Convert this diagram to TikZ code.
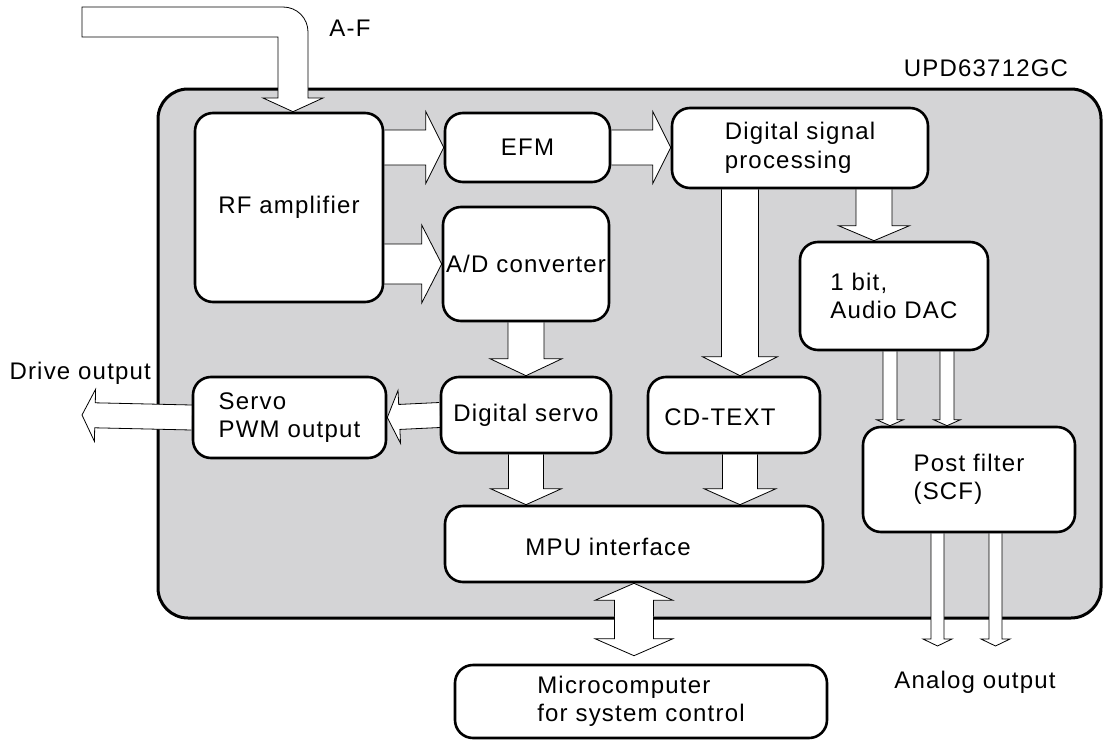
\documentclass[tikz,border=0pt]{standalone}
\usepackage{fontspec}
\setmainfont[LetterSpace=5]{Liberation Sans}
\usepackage{tikz}
\usetikzlibrary{calc}

\definecolor{chipgray}{RGB}{212,212,214}
\pgfdeclarelayer{bg}
\pgfdeclarelayer{arrows}
\pgfsetlayers{bg,arrows,main}

% block arrow: start, tip, shaft half width, head half width, head length
\newcommand{\blockarrow}[5]{%
  \coordinate (ba-s) at (#1);
  \coordinate (ba-t) at (#2);
  \coordinate (ba-h) at ($(ba-t)!#5!(ba-s)$);
  \path[blk] ($(ba-s)!#3!90:(ba-t)$) -- ($(ba-h)!#3!90:(ba-t)$)
    -- ($(ba-h)!#4!90:(ba-t)$) -- (ba-t) -- ($(ba-h)!#4!-90:(ba-t)$)
    -- ($(ba-h)!#3!-90:(ba-t)$) -- ($(ba-s)!#3!-90:(ba-t)$);
}

\begin{document}
\begin{tikzpicture}[x=1pt, y=-1pt,
  font=\fontsize{24}{28.5}\selectfont,
  box/.style={draw, line width=2.6pt, fill=white, rounded corners=18pt, align=left, inner sep=0pt},
  blk/.style={draw, fill=white, line width=0.8pt, line join=miter}]
  \useasboundingbox (0,0) rectangle (1104,742);

  % chip outline
  \begin{pgfonlayer}{bg}
    \draw[line width=3pt, fill=chipgray, rounded corners=30pt] (158,89) rectangle (1101,618);
  \end{pgfonlayer}
  \node at (986,68) {UPD63712GC};
  \node at (350,28) {A-F};

  % blocks
  \node[box, minimum width=188pt, minimum height=189pt] (rf) at (289,207.5) {RF amplifier};
  \node[box, minimum width=165pt, minimum height=69pt] (efm) at (527.5,147.5) {EFM};
  \node[box, minimum width=256pt, minimum height=80pt] (dsp) at (800,148) {Digital signal\\processing};
  \node[box, minimum width=166pt, minimum height=114pt] (adc) at (526,264) {A/D converter};
  \node[box, minimum width=188pt, minimum height=108pt] (dac) at (894,296) {1 bit,\\Audio DAC};
  \node[box, minimum width=170pt, minimum height=76pt] (servo) at (526,415) {Digital servo};
  \node[box, minimum width=193pt, minimum height=81pt] (pwm) at (289.5,417.5) {Servo\\PWM output};
  \node[box, minimum width=172pt, minimum height=76pt] (cdtext) at (734,415) {};
  \node at ($(cdtext)+(-14,2)$) {CD-TEXT};
  \node[box, minimum width=212pt, minimum height=105pt] (post) at (969,479.5) {Post filter\\(SCF)};
  \node[box, minimum width=378pt, minimum height=76pt] (mpu) at (634,544) {};
  \node at ($(mpu)+(-26,3)$) {MPU interface};
  \node[box, minimum width=372pt, minimum height=73pt] (micro) at (641,701.5) {Microcomputer\\for system control};

  % outside labels
  \node[anchor=west] (drvlbl) at (6,373) {Drive output};
  \node (anlbl) at (975,682) {Analog output};

  \coordinate (afin) at ($(rf.north)+(4,0)$);
  \coordinate (drv) at (82,415);
  \coordinate (cdin) at ($(cdtext.north)+(6,0)$);
  \coordinate (cdout) at ($(cdtext.south)+(6,0)$);
  \coordinate (dacin) at ($(dac.north)+(-20,0)$);
  \coordinate (dac1) at ($(dac.south)+(-4,0)$);
  \coordinate (dac2) at ($(dac.south)+(53,0)$);
  \coordinate (ao1) at (937.5,646);
  \coordinate (ao2) at (995.5,646);
  \coordinate (busend) at ($(mpu.south |- micro.north)+(0,-8)$);
  \coordinate (bus) at ($(mpu.south)!0.5!(busend)$);
  \coordinate (bus2) at ($(bus)+(0,-3)$);

  % block arrows
  \begin{pgfonlayer}{arrows}
    \draw[blk] (82,7) -- (283,7) .. controls (297,7) and (308,18) .. (308,32) -- (308,98) -- (323,98)
      -- (afin) -- (263,98) -- (278,98) -- (278,37) -- (82,37) -- cycle;
    \blockarrow{rf.east |- efm.west}{efm.west}{17.5pt}{36pt}{18pt}
    \blockarrow{efm.east}{dsp.west |- efm.east}{17.5pt}{36pt}{18pt}
    \blockarrow{rf.east |- adc.west}{adc.west}{20pt}{39pt}{20pt}
    \blockarrow{adc.south}{servo.north}{18pt}{36pt}{17pt}
    \blockarrow{servo.west}{pwm.east}{12.5pt}{26.5pt}{12pt}
    \blockarrow{pwm.west}{drv}{12.5pt}{26pt}{13pt}
    \blockarrow{dsp.south -| cdin}{cdin}{18.5pt}{37.5pt}{19pt}
    \blockarrow{dsp.south -| dacin}{dacin}{18pt}{35.5pt}{15pt}
    \blockarrow{servo.south}{mpu.north -| servo.south}{17.5pt}{35.5pt}{16pt}
    \blockarrow{cdout}{mpu.north -| cdout}{17.5pt}{36pt}{16pt}
    \blockarrow{dac1}{post.north -| dac1}{7pt}{13.5pt}{6pt}
    \blockarrow{dac2}{post.north -| dac2}{7pt}{13.5pt}{6pt}
    \blockarrow{post.south -| ao1}{ao1}{6.5pt}{14.5pt}{7pt}
    \blockarrow{post.south -| ao2}{ao2}{6.5pt}{14.5pt}{7pt}
    \blockarrow{bus}{mpu.south}{19.5pt}{39pt}{17pt}
    \blockarrow{bus2}{busend}{19.5pt}{39pt}{17pt}
  \end{pgfonlayer}
\end{tikzpicture}
\end{document}
